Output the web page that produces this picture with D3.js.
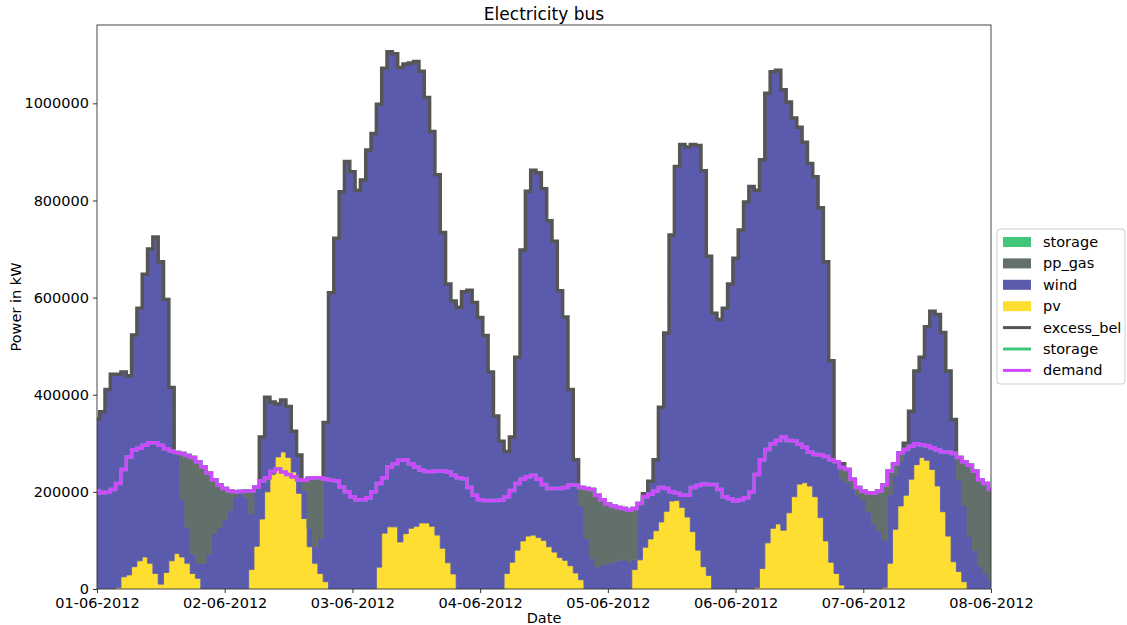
<!DOCTYPE html>
<html>
<head>
<meta charset="utf-8">
<script src="https://cdn.jsdelivr.net/npm/d3@7"></script>
<style>
  body { margin: 0; background: #ffffff; }
  text { font-family: "DejaVu Sans", sans-serif; fill: #000; }
</style>
</head>
<body>
<div id="viz"></div>
<script>
// hourly values in kW, 01-06-2012 00:00 .. 08-06-2012 00:00
const demand = [
  202000, 198000, 199000, 205000, 217000, 246000, 272000, 286000, 290000, 296000,
  301000, 301000, 296000, 289000, 284000, 281000, 279000, 275000, 271000, 262000,
  251000, 239000, 225000, 214000, 207000, 202000, 200000, 201000, 202000, 202000,
  210000, 223000, 229000, 242000, 247000, 241000, 236000, 231000, 225000, 224000,
  228000, 229000, 229000, 226000, 224000, 223000, 210000, 200000, 190000, 184000,
  184000, 188000, 200000, 217000, 229000, 251000, 258000, 265000, 266000, 258000,
  251000, 245000, 242000, 242000, 243000, 243000, 241000, 234000, 229000, 227000,
  209000, 193000, 184000, 182000, 182000, 182000, 183000, 190000, 203000, 217000,
  226000, 231000, 234000, 226000, 215000, 207000, 207000, 207000, 209000, 214000,
  214000, 209000, 207000, 205000, 193000, 184000, 175000, 171000, 168000, 166000,
  162000, 166000, 176000, 190000, 195000, 202000, 209000, 207000, 200000, 197000,
  193000, 193000, 209000, 213000, 216000, 215000, 215000, 205000, 190000, 186000,
  181000, 184000, 188000, 200000, 236000, 266000, 287000, 299000, 306000, 313000,
  306000, 305000, 298000, 292000, 282000, 277000, 276000, 273000, 266000, 262000,
  250000, 246000, 226000, 209000, 202000, 198000, 197000, 202000, 214000, 243000,
  258000, 280000, 287000, 294000, 299000, 297000, 295000, 291000, 286000, 282000,
  282000, 279000, 271000, 262000, 255000, 243000, 225000, 217000, 205000
];

const pv = [
  0, 0, 0, 0, 3000, 25000, 29000, 46000, 58000, 66000,
  53000, 32000, 10000, 34000, 58000, 73000, 66000, 53000, 32000, 22000,
  0, 0, 0, 0, 0, 0, 0, 0, 0, 40000,
  88000, 144000, 200000, 236000, 272000, 282000, 271000, 241000, 197000, 145000,
  87000, 53000, 32000, 15000, 0, 0, 0, 0, 0, 0,
  0, 0, 0, 45000, 115000, 128000, 128000, 97000, 114000, 125000,
  129000, 136000, 136000, 129000, 111000, 84000, 54000, 31000, 0, 0,
  0, 0, 0, 0, 0, 0, 0, 32000, 55000, 80000,
  99000, 109000, 111000, 106000, 100000, 87000, 76000, 65000, 59000, 48000,
  33000, 19000, 0, 0, 0, 0, 0, 0, 0, 0,
  0, 40000, 60000, 86000, 103000, 120000, 138000, 160000, 181000, 182000,
  168000, 148000, 118000, 80000, 46000, 28000, 0, 0, 0, 0,
  0, 0, 0, 0, 3000, 42000, 95000, 125000, 134000, 121000,
  157000, 190000, 216000, 219000, 212000, 190000, 147000, 99000, 55000, 32000,
  8000, 0, 0, 0, 0, 0, 0, 0, 3000, 53000,
  123000, 171000, 193000, 226000, 256000, 271000, 265000, 246000, 212000, 159000,
  109000, 56000, 36000, 15000, 0, 0, 0, 0, 0
];

const wind = [
  350000, 365000, 411000, 442000, 439000, 422000, 410000, 477000, 520000, 582000,
  647000, 693000, 664000, 562000, 357000, 208000, 118000, 73000, 39000, 31000,
  53000, 71000, 114000, 126000, 142000, 162000, 190000, 197000, 189000, 115000,
  122000, 169000, 195000, 149000, 109000, 107000, 105000, 84000, 79000, 58000,
  38000, 34000, 72000, 328000, 610000, 722000, 818000, 880000, 859000, 821000,
  842000, 904000, 938000, 953000, 957000, 978000, 974000, 977000, 967000, 958000,
  957000, 930000, 876000, 813000, 742000, 650000, 574000, 562000, 580000, 612000,
  615000, 590000, 559000, 522000, 447000, 356000, 304000, 251000, 258000, 397000,
  599000, 710000, 751000, 751000, 724000, 671000, 640000, 549000, 501000, 363000,
  233000, 152000, 104000, 63000, 46000, 49000, 53000, 55000, 58000, 61000,
  56000, 20000, 116000, 110000, 119000, 146000, 236000, 367000, 548000, 688000,
  747000, 762000, 797000, 833000, 815000, 657000, 568000, 555000, 578000, 628000,
  681000, 739000, 797000, 829000, 818000, 842000, 926000, 940000, 934000, 907000,
  846000, 780000, 735000, 701000, 664000, 659000, 638000, 575000, 415000, 230000,
  220000, 220000, 207000, 193000, 183000, 159000, 135000, 120000, 98000, 142000,
  111000, 91000, 107000, 140000, 193000, 206000, 275000, 326000, 353000, 369000,
  340000, 293000, 189000, 156000, 108000, 80000, 47000, 32000, 18000
];

const ppGas = [
  0, 0, 0, 0, 0, 0, 0, 0, 0, 0,
  0, 0, 0, 0, 0, 0, 95000, 149000, 200000, 209000,
  198000, 168000, 111000, 88000, 65000, 40000, 10000, 4000, 13000, 47000,
  0, 0, 0, 0, 0, 0, 0, 0, 0, 21000,
  103000, 142000, 125000, 0, 0, 0, 0, 0, 0, 0,
  0, 0, 0, 0, 0, 0, 0, 0, 0, 0,
  0, 0, 0, 0, 0, 0, 0, 0, 0, 0,
  0, 0, 0, 0, 0, 0, 0, 0, 0, 0,
  0, 0, 0, 0, 0, 0, 0, 0, 0, 0,
  0, 38000, 103000, 142000, 147000, 135000, 122000, 116000, 110000, 105000,
  106000, 106000, 0, 0, 0, 0, 0, 0, 0, 0,
  0, 0, 0, 0, 0, 0, 0, 0, 0, 0,
  0, 0, 0, 0, 0, 0, 0, 0, 0, 0,
  0, 0, 0, 0, 0, 0, 0, 0, 0, 0,
  30000, 26000, 19000, 16000, 19000, 39000, 62000, 82000, 113000, 48000,
  24000, 18000, 0, 0, 0, 0, 0, 0, 0, 0,
  0, 0, 46000, 91000, 147000, 163000, 178000, 185000, 187000
];

// storage never moves in this week
const storage = [
  0,0,0,0,0,0,0,0,0,0, 0,0,0,0,0,0,0,0,0,0, 0,0,0,0,0,0,0,0,0,0,
  0,0,0,0,0,0,0,0,0,0, 0,0,0,0,0,0,0,0,0,0, 0,0,0,0,0,0,0,0,0,0,
  0,0,0,0,0,0,0,0,0,0, 0,0,0,0,0,0,0,0,0,0, 0,0,0,0,0,0,0,0,0,0,
  0,0,0,0,0,0,0,0,0,0, 0,0,0,0,0,0,0,0,0,0, 0,0,0,0,0,0,0,0,0,0,
  0,0,0,0,0,0,0,0,0,0, 0,0,0,0,0,0,0,0,0,0, 0,0,0,0,0,0,0,0,0,0,
  0,0,0,0,0,0,0,0,0,0, 0,0,0,0,0,0,0,0,0,0
];

const tickDays = ["2012-06-01", "2012-06-02", "2012-06-03", "2012-06-04",
                  "2012-06-05", "2012-06-06", "2012-06-07", "2012-06-08"];
const yTicks = [0, 200000, 400000, 600000, 800000, 1000000];

const inKeys = ["pv", "wind", "pp_gas", "storage"];
const colors = {
  pv: "#ffde32",
  wind: "#5b5bae",
  pp_gas: "#636f6b",
  storage: "#42c77a",
  excess_bel: "#555555",
  demand: "#ce4aff"
};

const width = 1127;
const height = 625;
const margin = { top: 25, right: 136, bottom: 36, left: 97 };

const start = new Date(Date.UTC(2012, 5, 1, 0));
const rows = demand.map((d, i) => ({
  date: d3.utcHour.offset(start, i),
  pv: pv[i],
  wind: wind[i],
  pp_gas: ppGas[i],
  storage: storage[i],
  demand: d
}));
// stacked outputs: demand, storage on top of it, excess on top of both
rows.forEach(r => {
  const inflow = r.pv + r.wind + r.pp_gas + r.storage;
  r.storageLine = r.demand + r.storage;
  r.excessLine = Math.max(inflow, r.storageLine);
});

const svg = d3.select("#viz")
  .append("svg")
  .attr("width", width)
  .attr("height", height);

const plotLeft = margin.left;
const plotRight = width - margin.right;
const plotTop = margin.top;
const plotBottom = height - margin.bottom;

const x = d3.scaleUtc()
  .domain([rows[0].date, rows[rows.length - 1].date])
  .range([plotLeft, plotRight]);

const yMax = d3.max(rows, r => r.excessLine) * 1.05;
const y = d3.scaleLinear()
  .domain([0, yMax])
  .range([plotBottom, plotTop]);

svg.append("clipPath").attr("id", "clip")
  .append("rect")
  .attr("x", plotLeft).attr("y", plotTop)
  .attr("width", plotRight - plotLeft).attr("height", plotBottom - plotTop);

const plot = svg.append("g").attr("clip-path", "url(#clip)");

// Stacked inputs
const series = d3.stack().keys(inKeys)(rows);
const area = d3.area()
  .curve(d3.curveStep)
  .x(d => x(d.data.date))
  .y0(d => y(d[0]))
  .y1(d => y(d[1]));

plot.selectAll(".layer")
  .data(series)
  .enter()
  .append("path")
  .attr("class", "layer")
  .attr("d", area)
  .attr("fill", d => colors[d.key])
  .attr("stroke", d => colors[d.key])
  .attr("stroke-width", 0.8);

// Output lines
const stepLine = key => d3.line()
  .curve(d3.curveStep)
  .x(d => x(d.date))
  .y(d => y(d[key]));

plot.append("path")
  .datum(rows)
  .attr("d", stepLine("excessLine"))
  .attr("fill", "none")
  .attr("stroke", colors.excess_bel)
  .attr("stroke-width", 3.5);

plot.append("path")
  .datum(rows)
  .attr("d", stepLine("storageLine"))
  .attr("fill", "none")
  .attr("stroke", colors.storage)
  .attr("stroke-width", 3.5);

plot.append("path")
  .datum(rows)
  .attr("d", stepLine("demand"))
  .attr("fill", "none")
  .attr("stroke", colors.demand)
  .attr("stroke-width", 3.5);

// Frame
svg.append("rect")
  .attr("x", plotLeft).attr("y", plotTop)
  .attr("width", plotRight - plotLeft).attr("height", plotBottom - plotTop)
  .attr("fill", "none")
  .attr("stroke", "#333")
  .attr("stroke-width", 0.9);

// Axes
const xAxis = d3.axisBottom(x)
  .tickValues(tickDays.map(s => new Date(s + "T00:00:00Z")))
  .tickFormat(d3.utcFormat("%d-%m-%Y"))
  .tickSize(4)
  .tickPadding(5);

svg.append("g")
  .attr("transform", "translate(0," + plotBottom + ")")
  .call(xAxis)
  .call(g => g.select(".domain").remove())
  .call(g => g.selectAll("line").attr("stroke", "#333"))
  .call(g => g.selectAll("text").style("font-size", "14.5px").style("font-family", "DejaVu Sans"));

const yAxis = d3.axisLeft(y)
  .tickValues(yTicks)
  .tickFormat(d3.format("d"))
  .tickSize(4)
  .tickPadding(4);

svg.append("g")
  .attr("transform", "translate(" + plotLeft + ",0)")
  .call(yAxis)
  .call(g => g.select(".domain").remove())
  .call(g => g.selectAll("line").attr("stroke", "#333"))
  .call(g => g.selectAll("text").style("font-size", "14.5px").style("font-family", "DejaVu Sans"));

// Title and labels
svg.append("text")
  .attr("x", (plotLeft + plotRight) / 2)
  .attr("y", 20)
  .attr("text-anchor", "middle")
  .style("font-size", "17px")
  .text("Electricity bus");

svg.append("text")
  .attr("x", (plotLeft + plotRight) / 2)
  .attr("y", 623)
  .attr("text-anchor", "middle")
  .style("font-size", "14.5px")
  .text("Date");

svg.append("text")
  .attr("transform", "translate(21," + ((plotTop + plotBottom) / 2) + ") rotate(-90)")
  .attr("text-anchor", "middle")
  .style("font-size", "14.5px")
  .text("Power in kW");

// Legend
const legendItems = [
  { label: "storage", kind: "patch", color: colors.storage },
  { label: "pp_gas", kind: "patch", color: colors.pp_gas },
  { label: "wind", kind: "patch", color: colors.wind },
  { label: "pv", kind: "patch", color: colors.pv },
  { label: "excess_bel", kind: "line", color: colors.excess_bel },
  { label: "storage", kind: "line", color: colors.storage },
  { label: "demand", kind: "line", color: colors.demand }
];

const legend = svg.append("g")
  .attr("transform", "translate(997,229)");

legend.append("rect")
  .attr("width", 128).attr("height", 155)
  .attr("rx", 3)
  .attr("fill", "#fff")
  .attr("fill-opacity", 0.8)
  .attr("stroke", "#cccccc");

const entry = legend.selectAll(".entry")
  .data(legendItems)
  .enter()
  .append("g")
  .attr("class", "entry")
  .attr("transform", (d, i) => "translate(6," + (13 + i * 21.4) + ")");

entry.filter(d => d.kind === "patch")
  .append("rect")
  .attr("x", 0).attr("y", -5)
  .attr("width", 28).attr("height", 10)
  .attr("fill", d => d.color);

entry.filter(d => d.kind === "line")
  .append("line")
  .attr("x1", 0).attr("x2", 28)
  .attr("stroke", d => d.color)
  .attr("stroke-width", 3);

entry.append("text")
  .attr("x", 40)
  .attr("y", 5)
  .style("font-size", "14.5px")
  .text(d => d.label);
</script>
</body>
</html>
